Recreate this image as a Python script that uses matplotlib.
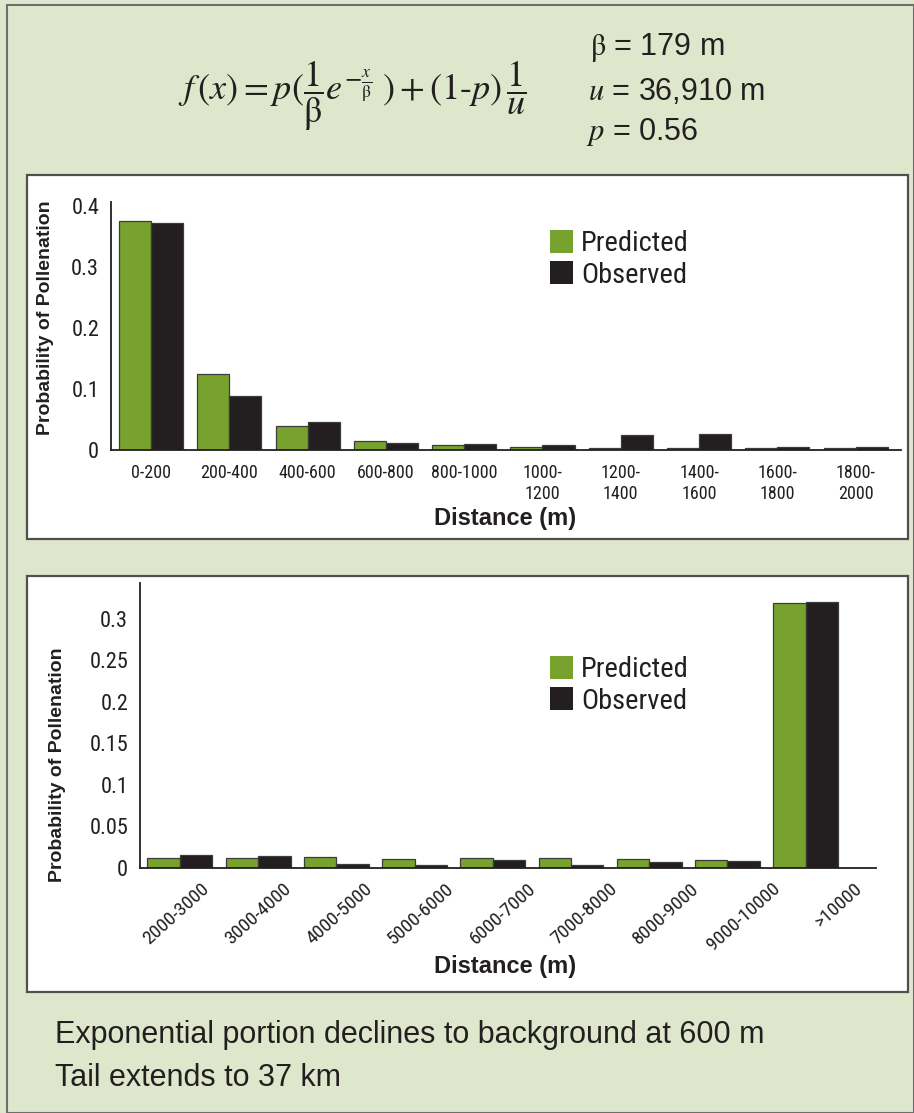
import matplotlib
matplotlib.use('Agg')
import matplotlib.pyplot as plt
from matplotlib.patches import Rectangle, Patch
import numpy as np

# ---------------- data ----------------
near_labels = ['0-200', '200-400', '400-600', '600-800', '800-1000',
               '1000-\n1200', '1200-\n1400', '1400-\n1600', '1600-\n1800', '1800-\n2000']
near_pred = [0.375, 0.124, 0.040, 0.015, 0.009, 0.0055, 0.004, 0.004, 0.003, 0.004]
near_obs = [0.372, 0.089, 0.046, 0.012, 0.0095, 0.008, 0.025, 0.027, 0.005, 0.005]
near_yticks = [0, 0.1, 0.2, 0.3, 0.4]
near_yticklabels = ['0', '0.1', '0.2', '0.3', '0.4']

far_labels = ['2000-3000', '3000-4000', '4000-5000', '5000-6000', '6000-7000',
              '7000-8000', '8000-9000', '9000-10000', '>10000']
far_pred = [0.0125, 0.0118, 0.013, 0.0113, 0.012, 0.0117, 0.0113, 0.010, 0.319]
far_obs = [0.016, 0.0145, 0.0045, 0.004, 0.0093, 0.0037, 0.0077, 0.0085, 0.320]
far_yticks = [0, 0.05, 0.1, 0.15, 0.2, 0.25, 0.3]
far_yticklabels = ['0', '0.05', '0.1', '0.15', '0.2', '0.25', '0.3']

series_names = ['Predicted', 'Observed']

# ---------------- style ----------------
BG = '#dee7cc'
GREEN = '#77a22e'
DARK = '#231f20'
EDGE = '#3c3c3c'
NARROW = ['Roboto Condensed', 'Liberation Sans Narrow', 'Liberation Sans', 'DejaVu Sans']
SANS = ['Liberation Sans', 'DejaVu Sans']

plt.rcParams['mathtext.fontset'] = 'stix'
plt.rcParams['font.family'] = SANS

W, H = 914, 1113
fig = plt.figure(figsize=(W / 100, H / 100), dpi=100)
fig.patch.set_facecolor(BG)


def rect_px(x0, y0, x1, y1, **kw):
    return Rectangle((x0 / W, 1 - y1 / H), (x1 - x0) / W, (y1 - y0) / H,
                     transform=fig.transFigure, **kw)


# outer border and white panels
fig.patches.append(rect_px(6.5, 4.5, 913.5, 1112.5, fill=False, edgecolor='#6e6e6e', lw=1.5, zorder=-10))
fig.patches.append(rect_px(27, 175, 908, 539, facecolor='white', edgecolor='#505050', lw=1.6, zorder=-5))
fig.patches.append(rect_px(27, 576, 908, 992, facecolor='white', edgecolor='#505050', lw=1.6, zorder=-5))


def style_axes(ax):
    ax.set_facecolor('none')
    for s in ['top', 'right']:
        ax.spines[s].set_visible(False)
    for s in ['left', 'bottom']:
        ax.spines[s].set_color(DARK)
        ax.spines[s].set_linewidth(1.3)
    ax.tick_params(length=0, colors=DARK)


def add_legend(ax, x, y):
    handles = [Patch(facecolor=GREEN, edgecolor='none'), Patch(facecolor=DARK, edgecolor='none')]
    leg = ax.legend(handles, series_names, loc='upper left', bbox_to_anchor=(x, y),
                    frameon=False, prop={'family': NARROW, 'size': 20.5},
                    handlelength=0.81, handleheight=0.85, handletextpad=0.28,
                    labelspacing=0.15, borderpad=0, borderaxespad=0)
    for t in leg.get_texts():
        t.set_color(DARK)


# ---------------- top chart ----------------
ax1 = fig.add_axes([111 / W, 1 - 450 / H, 790 / W, 248 / H])
style_axes(ax1)
x1 = np.arange(len(near_labels))
bw1 = 0.409
ax1.bar(x1 - bw1 / 2, near_pred, bw1, color=GREEN, edgecolor=EDGE, linewidth=0.9)
ax1.bar(x1 + bw1 / 2, near_obs, bw1, color=DARK, edgecolor=EDGE, linewidth=0.9)
ax1.set_xlim(-0.511, 9.579)
ax1.set_ylim(0, 0.406)
ax1.set_yticks(near_yticks)
ax1.set_yticklabels(near_yticklabels, family=NARROW, fontsize=16, color=DARK)
ax1.set_xticks(x1)
ax1.set_xticklabels(near_labels, family=NARROW, fontsize=13, color=DARK, linespacing=1.2)
ax1.tick_params(axis='y', pad=8.5)
ax1.tick_params(axis='x', pad=10)
ax1.set_ylabel('Probability of Pollenation', family=SANS, fontweight='bold', fontsize=14, color=DARK)
ax1.yaxis.label.set_va('center')
ax1.yaxis.set_label_coords((46 - 111) / 790, (450 - 318) / 248)
ax1.set_xlabel('Distance (m)', family=SANS, fontweight='bold', fontsize=17, color=DARK)
ax1.xaxis.label.set_va('center')
ax1.xaxis.set_label_coords((505 - 111) / 790, (450 - 519) / 248)
add_legend(ax1, (550 - 111) / 790, (450 - 230) / 248)

# ---------------- bottom chart ----------------
ax2 = fig.add_axes([140 / W, 1 - 868 / H, 736 / W, 285 / H])
style_axes(ax2)
x2 = np.arange(len(far_labels))
bw2 = 0.415
ax2.bar(x2 - bw2 / 2, far_pred, bw2, color=GREEN, edgecolor=EDGE, linewidth=0.9)
ax2.bar(x2 + bw2 / 2, far_obs, bw2, color=DARK, edgecolor=EDGE, linewidth=0.9)
ax2.set_xlim(-0.51, 8.90)
ax2.set_ylim(0, 0.343)
ax2.set_yticks(far_yticks)
ax2.set_yticklabels(far_yticklabels, family=NARROW, fontsize=16, color=DARK)
ax2.tick_params(axis='y', pad=8.5)
label_pos = 0.34 + np.arange(len(far_labels)) * 1.044
ax2.set_xticks(label_pos)
ax2.set_xticklabels(far_labels, family=NARROW, fontsize=14, color=DARK,
                    rotation=42, ha='right', va='center', rotation_mode='anchor')
ax2.tick_params(axis='x', pad=13)
ax2.set_ylabel('Probability of Pollenation', family=SANS, fontweight='bold', fontsize=14, color=DARK)
ax2.yaxis.label.set_va('center')
ax2.yaxis.set_label_coords((58 - 140) / 736, (868 - 765) / 285)
ax2.set_xlabel('Distance (m)', family=SANS, fontweight='bold', fontsize=17, color=DARK)
ax2.xaxis.label.set_va('center')
ax2.xaxis.set_label_coords((505 - 140) / 736, (868 - 966) / 285)
add_legend(ax2, (550 - 140) / 736, (868 - 656) / 285)

# ---------------- header formula and parameters ----------------
formula = (r'$f\,(x) = p(\dfrac{1}{\mathrm{\beta}}e^{-\frac{x}{\mathrm{\beta}}}\;) + '
           r'(1\text{-}p)\,\dfrac{1}{u}$')
fig.text(178 / W, 1 - 100 / H, formula, ha='left', va='baseline', fontsize=26, color=DARK)
fig.text(590 / W, 1 - 55 / H, r'$\mathrm{\beta}$ = 179 m', ha='left', va='baseline', fontsize=22, color=DARK)
fig.text(588 / W, 1 - 100 / H, r'$u$ = 36,910 m', ha='left', va='baseline', fontsize=22, color=DARK)
fig.text(586 / W, 1 - 140 / H, r'$p$ = 0.56', ha='left', va='baseline', fontsize=22, color=DARK)

# ---------------- footer notes ----------------
fig.text(55 / W, 1 - 1043 / H, 'Exponential portion declines to background at 600 m',
         ha='left', va='baseline', fontsize=22, color=DARK)
fig.text(55 / W, 1 - 1086 / H, 'Tail extends to 37 km',
         ha='left', va='baseline', fontsize=22, color=DARK)

fig.savefig('out.png', dpi=100, facecolor=BG)
